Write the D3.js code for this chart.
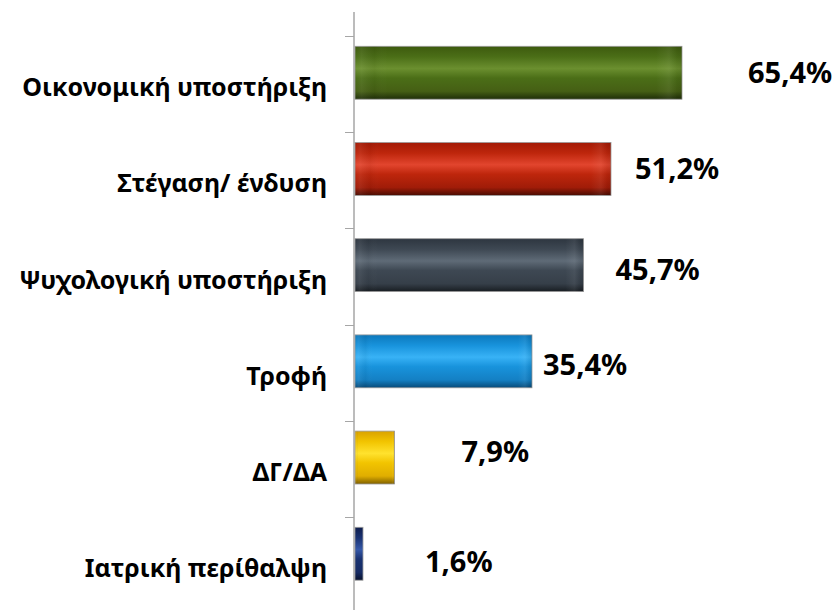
<!DOCTYPE html>
<html>
<head>
<meta charset="utf-8">
<script src="https://cdn.jsdelivr.net/npm/d3@7"></script>
<style>
  html, body { margin: 0; padding: 0; background: #ffffff; }
  svg { display: block; }
</style>
</head>
<body>
<svg id="chart" width="835" height="610"></svg>
<script>
// ---- data ----
const categories = [
  "Οικονομική υποστήριξη",
  "Στέγαση/ ένδυση",
  "Ψυχολογική υποστήριξη",
  "Τροφή",
  "ΔΓ/ΔΑ",
  "Ιατρική περίθαλψη"
];
const values = [65.4, 51.2, 45.7, 35.4, 7.9, 1.6];
const valueLabels = ["65,4%", "51,2%", "45,7%", "35,4%", "7,9%", "1,6%"];

// ---- styling (not data) ----
const palettes = [
  ["#3d5a0e", "#4b6e17", "#6b8f2f", "#455f14", "#1f2e08"],
  ["#a31a05", "#be260c", "#e2452e", "#a01c08", "#4a0c02"],
  ["#2e3640", "#3e4853", "#5f6b77", "#363f49", "#181d22"],
  ["#0c78bc", "#1893dc", "#38b2f6", "#1480c4", "#084a78"],
  ["#d9a200", "#f2c400", "#ffe22e", "#e0ae00", "#806000"],
  ["#0e1d4c", "#193272", "#3558a8", "#162b64", "#08122e"]
];
// label nudges (px): [dx from bar end, dy from bar centre]
const labelNudge = [[66, 0], [24, 0], [32, 4], [11, 3], [67, -6], [62, 8]];

const svg = d3.select("#chart");
const defs = svg.append("defs");

const x = d3.scaleLinear().domain([0, 100]).range([355, 855]);
const y = d3.scaleBand().domain(categories).range([36, 613.2]).padding(0);
const bw = y.bandwidth();
const barOffset = bw * 0.107;
const barH = bw * 0.55;

// gradients
palettes.forEach((p, i) => {
  const g = defs.append("linearGradient")
    .attr("id", "grad" + i).attr("x1", 0).attr("y1", 0).attr("x2", 0).attr("y2", 1);
  [[0, p[0]], [0.2, p[1]], [0.42, p[2]], [0.6, p[1]], [0.85, p[3]], [1, p[4]]]
    .forEach(([o, c]) => g.append("stop").attr("offset", o).attr("stop-color", c));
});
const hg = defs.append("linearGradient").attr("id", "caps")
  .attr("x1", 0).attr("y1", 0).attr("x2", 1).attr("y2", 0);
[[0, "#ffffff", 0.0], [0.02, "#ffffff", 0.06], [0.06, "#000000", 0.04], [0.1, "#ffffff", 0],
 [0.92, "#ffffff", 0], [0.96, "#ffffff", 0.06], [0.985, "#000000", 0.06], [1, "#000000", 0.1]]
  .forEach(([o, c, a]) => hg.append("stop").attr("offset", o).attr("stop-color", c).attr("stop-opacity", a));

// axis line and boundary ticks
svg.append("line")
  .attr("x1", 354).attr("x2", 354).attr("y1", 12).attr("y2", 610)
  .attr("stroke", "#a6a6a6").attr("stroke-width", 1.5);
svg.selectAll("line.tick").data(categories).enter().append("line")
  .attr("class", "tick")
  .attr("x1", 345).attr("x2", 354)
  .attr("y1", d => Math.round(y(d)) + 0.5).attr("y2", d => Math.round(y(d)) + 0.5)
  .attr("stroke", "#a6a6a6").attr("stroke-width", 1);

// category labels via axis
const axis = d3.axisLeft(y).tickSize(0).tickPadding(0);
const ag = svg.append("g").attr("transform", "translate(327,0)").call(axis);
ag.select(".domain").remove();
ag.selectAll("text")
  .attr("font-family", "'Noto Sans', 'DejaVu Sans', sans-serif")
  .attr("font-weight", "bold")
  .attr("font-size", 25)
  .attr("fill", "#000")
  .attr("dy", "0.48em");

// bars
const bars = svg.selectAll("g.bar").data(categories).enter().append("g").attr("class", "bar");
bars.append("rect")
  .attr("x", x(0))
  .attr("y", d => y(d) + barOffset)
  .attr("width", (d, i) => x(values[i]) - x(0))
  .attr("height", barH)
  .attr("fill", (d, i) => "url(#grad" + i + ")")
  .attr("stroke", "#9c9c9c")
  .attr("stroke-width", 0.8);
bars.append("rect")
  .attr("x", x(0))
  .attr("y", d => y(d) + barOffset)
  .attr("width", (d, i) => x(values[i]) - x(0))
  .attr("height", barH)
  .attr("fill", "url(#caps)");

// value labels
svg.selectAll("text.val").data(categories).enter().append("text")
  .attr("class", "val")
  .attr("x", (d, i) => x(values[i]) + labelNudge[i][0])
  .attr("y", (d, i) => y(d) + barOffset + barH / 2 + labelNudge[i][1])
  .attr("dy", "0.36em")
  .attr("font-family", "'Noto Sans', 'DejaVu Sans', sans-serif")
  .attr("font-weight", "bold")
  .attr("font-size", 29)
  .attr("fill", "#000")
  .text((d, i) => valueLabels[i]);
</script>
</body>
</html>
